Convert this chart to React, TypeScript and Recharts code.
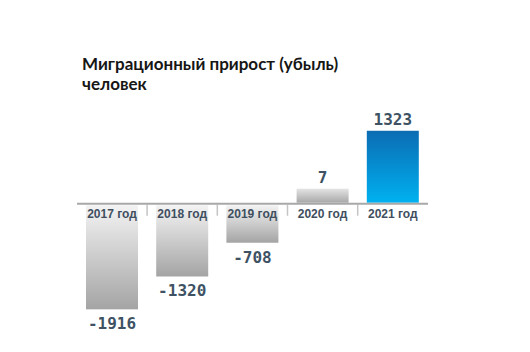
import React from 'react';
import { BarChart, Bar, XAxis, YAxis, ReferenceLine } from 'recharts';

const years = ['2017 год', '2018 год', '2019 год', '2020 год', '2021 год'];
const values = [-1916, -1320, -708, 7, 1323];
const titleLines = ['Миграционный прирост (убыль)', 'человек'];

const data = years.map((year, i) => ({ year, value: values[i] }));

const W = 530;
const H = 352;
const MARGIN = { top: 121, right: 102, bottom: 27, left: 77 };
const PLOT_W = W - MARGIN.left - MARGIN.right;
const BAND = PLOT_W / years.length;

const labelColor = '#3f4f5f';
const valueColor = '#3e5264';

function BarShape(props: any) {
  const { x, y, width, height, payload, index } = props;
  const v = payload.value;
  const top = Math.min(y, y + height);
  const bottom = Math.max(y, y + height);
  const h = bottom - top;
  const zeroY = v >= 0 ? bottom : top;
  const isLast = index === data.length - 1;
  const fill = isLast ? 'url(#gradBlue)' : v >= 0 ? 'url(#gradGrayPos)' : 'url(#gradGray)';
  const cx = x + width / 2;
  const rectTop = v >= 0 ? top : top + 1.5;
  const rectH = v >= 0 ? h - 1 : h - 1.5;
  return (
    <g>
      <rect x={x} y={rectTop} width={width} height={Math.max(rectH, 0)} fill={fill} />
      <text
        x={cx}
        y={zeroY + 14}
        textAnchor="middle"
        fontFamily="'Liberation Sans', Arial, sans-serif"
        fontWeight="bold"
        fontSize={12}
        fill={labelColor}
      >
        {payload.year}
      </text>
      {index > 0 && (
        <line
          x1={cx - BAND / 2}
          x2={cx - BAND / 2}
          y1={zeroY + 1}
          y2={zeroY + 12}
          stroke="#c4c4c4"
          strokeWidth={1.5}
        />
      )}
      <text
        x={cx}
        y={v >= 0 ? top - 6 : bottom + 20}
        textAnchor="middle"
        fontFamily="'DejaVu Sans Mono', monospace"
        fontWeight="bold"
        fontSize={16}
        fill={valueColor}
      >
        {String(v)}
      </text>
    </g>
  );
}

export default function App() {
  return (
    <div
      style={{
        position: 'absolute',
        left: 0,
        top: 0,
        width: W,
        height: H,
        background: '#ffffff',
        overflow: 'hidden',
      }}
    >
      <div
        style={{
          position: 'absolute',
          left: 82,
          top: 54,
          fontFamily: 'Lato, sans-serif',
          fontWeight: 700,
          fontSize: 17,
          lineHeight: '20px',
          color: '#161616',
          whiteSpace: 'nowrap',
        }}
      >
        {titleLines.map((t) => (
          <div key={t}>{t}</div>
        ))}
      </div>
      <BarChart
        width={W}
        height={H}
        data={data}
        margin={MARGIN}
        barSize={52}
        style={{ position: 'absolute', left: 0, top: 0 }}
      >
        <defs>
          <linearGradient id="gradGray" x1="0" y1="0" x2="0" y2="1">
            <stop offset="0%" stopColor="#f3f3f3" />
            <stop offset="100%" stopColor="#a4a4a4" />
          </linearGradient>
          <linearGradient id="gradGrayPos" x1="0" y1="0" x2="0" y2="1">
            <stop offset="0%" stopColor="#e4e4e4" />
            <stop offset="100%" stopColor="#a8a8a8" />
          </linearGradient>
          <linearGradient id="gradBlue" x1="0" y1="0" x2="0" y2="1">
            <stop offset="0%" stopColor="#0b6cb3" />
            <stop offset="100%" stopColor="#00b1f0" />
          </linearGradient>
        </defs>
        <XAxis dataKey="year" hide />
        <YAxis hide domain={[-2200, 1500]} type="number" />
        <Bar
          dataKey="value"
          minPointSize={15}
          shape={<BarShape />}
          isAnimationActive={false}
        />
        <ReferenceLine y={0} stroke="#a8a8a8" strokeWidth={2} />
      </BarChart>
    </div>
  );
}
